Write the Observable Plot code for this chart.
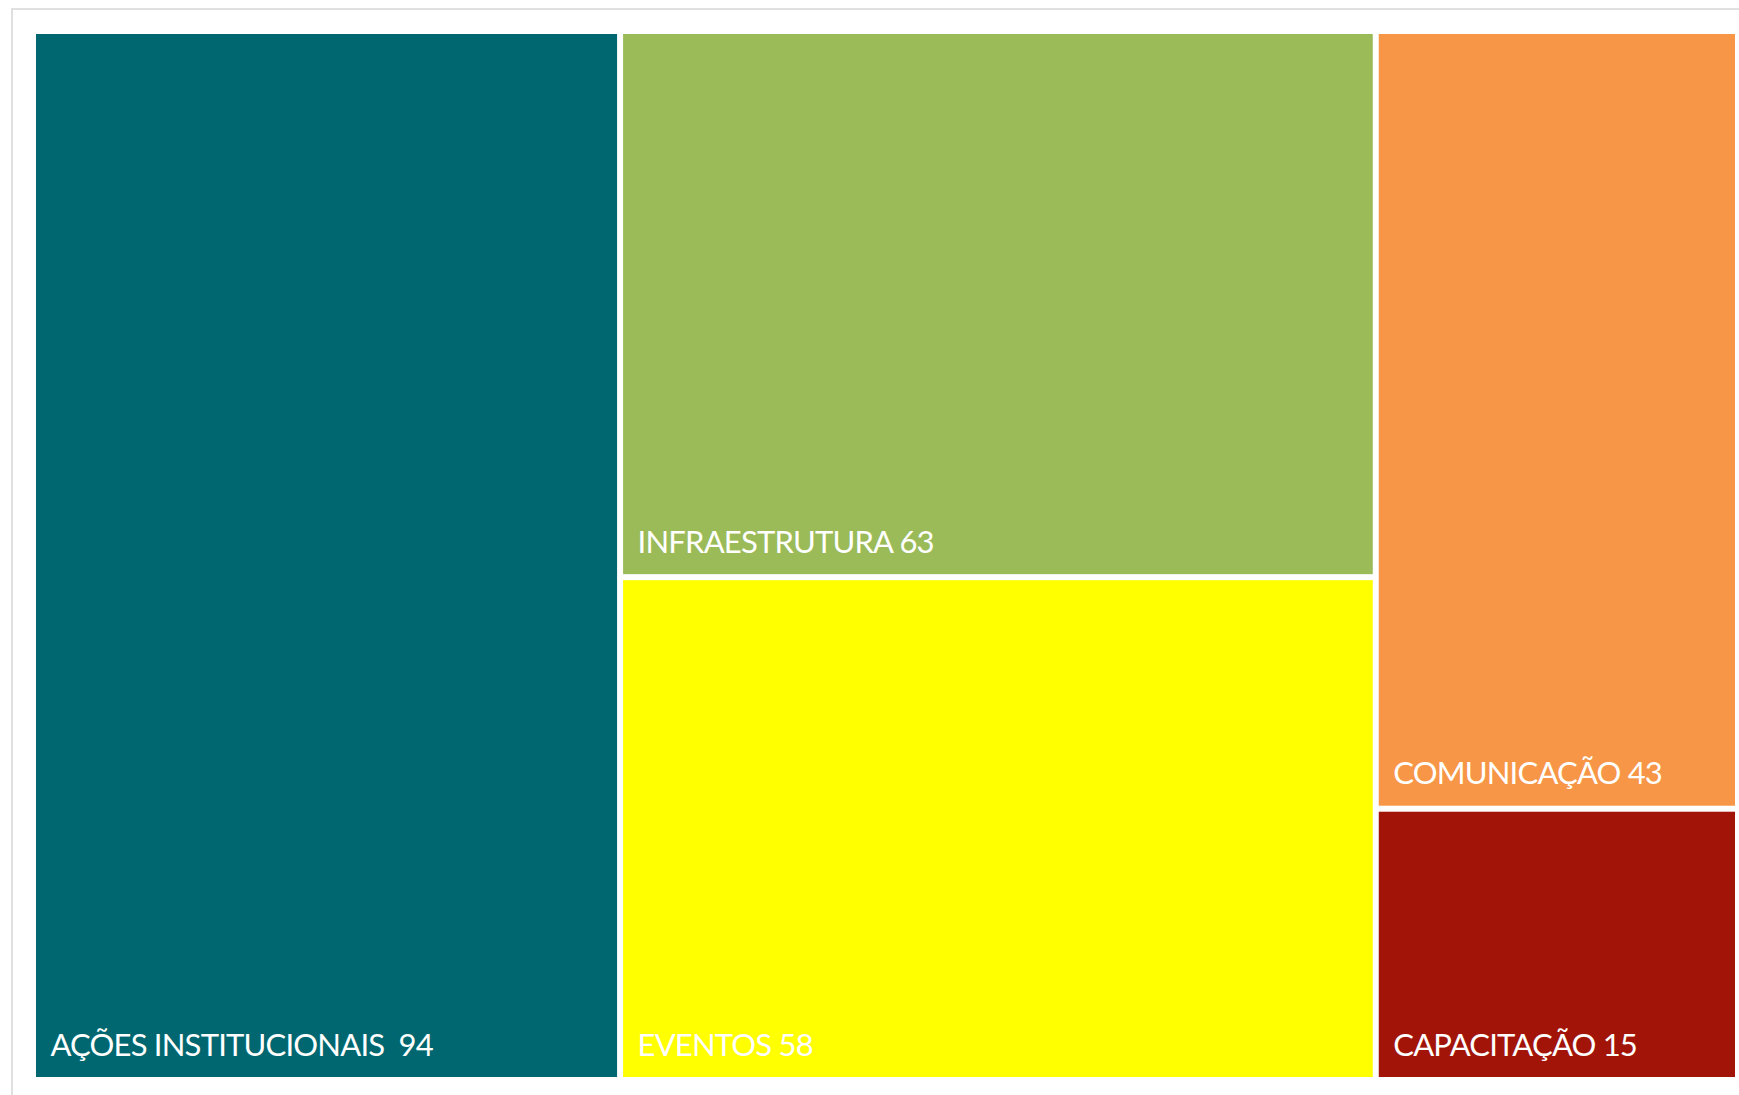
<!DOCTYPE html>
<html><head><meta charset="utf-8">
<script src="https://cdn.jsdelivr.net/npm/d3@7"></script>
<script src="https://cdn.jsdelivr.net/npm/@observablehq/plot@0.6"></script>
<style>
html,body{margin:0;padding:0;background:#fff;overflow:hidden}
#frame{position:absolute;left:11px;top:8px;width:1780px;height:1140px;border-left:2px solid #e0e0e0;border-top:2px solid #e0e0e0;}
#chart{position:absolute;left:0;top:0}
svg text{white-space:pre;letter-spacing:-0.8px}
</style></head><body>
<div id="frame"></div><div id="chart"></div>
<script>
const categories = ["AÇÕES INSTITUCIONAIS ", "INFRAESTRUTURA", "EVENTOS", "COMUNICAÇÃO", "CAPACITAÇÃO"];
const values = [94, 63, 58, 43, 15];
const colors = ["#006770", "#9BBB59", "#FFFF00", "#F79646", "#A21407"];
// column grouping of the treemap (indices into categories)
const columns = [[0], [1, 2], [3, 4]];

const W = 1699, H = 1043;
const root = d3.hierarchy({children: columns.map(col => ({children: col.map(i => ({name: categories[i], value: values[i]}))}))})
  .sum(d => d.value ?? 0);
d3.treemap().size([W, H]).paddingInner(6).tile(d3.treemapSliceDice)(root);
const cells = root.leaves().map(l => ({
  name: l.data.name, value: l.data.value,
  x0: l.x0, x1: l.x1, y0: l.y0, y1: l.y1,
  label: l.data.name + " " + l.data.value
}));

const chart = Plot.plot({
  width: 1739, height: 1095,
  marginLeft: 36, marginTop: 34, marginRight: 4, marginBottom: 18,
  style: {background: "transparent"},
  x: {domain: [0, W], axis: null},
  y: {domain: [0, H], reverse: true, axis: null},
  color: {domain: categories, range: colors},
  marks: [
    Plot.rect(cells, {x1: "x0", x2: "x1", y1: "y0", y2: "y1", fill: "name"}),
    Plot.text(cells, {x: "x0", y: "y1", text: "label", dx: 14, dy: -22,
      textAnchor: "start", lineAnchor: "bottom", fill: "white",
      fontSize: 31, fontFamily: "Lato"})
  ]
});
document.getElementById("chart").appendChild(chart);
</script>
</body></html>
